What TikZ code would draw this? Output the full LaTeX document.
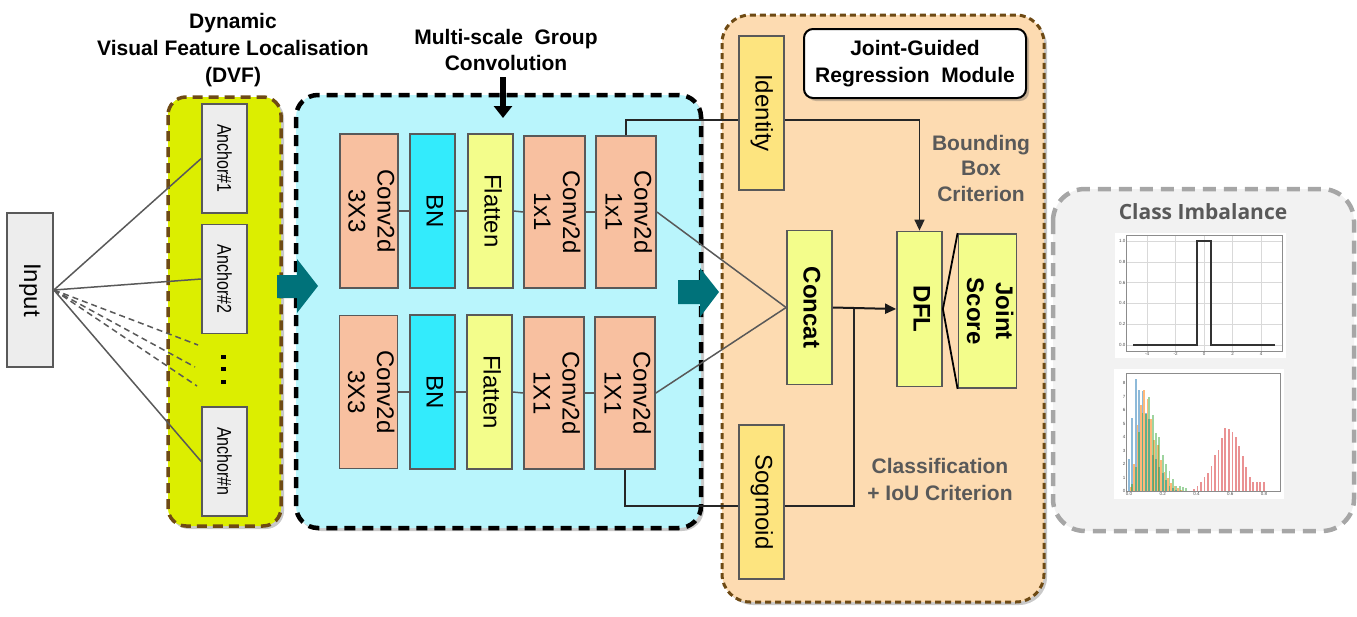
\documentclass[tikz,border=0pt]{standalone}
\usepackage{fontspec}
\setmainfont{Liberation Sans}
\newfontfamily\osans{Open Sans}
\usepackage{graphicx}
\usetikzlibrary{arrows.meta,calc,shadows}
\definecolor{dvfY}{HTML}{DCEE00}
\definecolor{cyanbg}{HTML}{B9F5FC}
\definecolor{convc}{HTML}{F8C0A0}
\definecolor{bnc}{HTML}{33EBFC}
\definecolor{flatc}{HTML}{F3FD8B}
\definecolor{goldc}{HTML}{FDE47F}
\definecolor{orbg}{HTML}{FDDBB1}
\definecolor{brownc}{HTML}{6E4A14}
\definecolor{tealc}{HTML}{00727A}
\definecolor{edgec}{HTML}{595959}
\definecolor{anc}{HTML}{EDEDED}
\definecolor{clsbg}{HTML}{F2F2F2}
\definecolor{clsbd}{HTML}{A6A6A6}
\definecolor{txtgray}{HTML}{595959}
\definecolor{pblue}{HTML}{1F77B4}
\definecolor{porange}{HTML}{FF7F0E}
\definecolor{pgreen}{HTML}{2CA02C}
\definecolor{pred}{HTML}{D62728}
\newcommand{\vtxt}[1]{\rotatebox{-90}{\begin{tabular}{@{}c@{}}#1\end{tabular}}}
\begin{document}
\begin{tikzpicture}[x=1pt,y=-1pt,
  blk/.style={draw=edgec, line width=1.8pt, inner sep=0pt, font=\fontsize{24}{29}\selectfont},
  bblk/.style={blk, font=\fontsize{24}{29}\selectfont\bfseries},
  convbox/.style={blk, fill=convc},
  bnbox/.style={blk, fill=bnc},
  flatbox/.style={blk, fill=flatc},
  goldbox/.style={blk, fill=goldc},
  anchorbox/.style={draw=edgec, line width=1.6pt, inner sep=0pt, fill=anc, minimum width=45pt, minimum height=109pt},
  ttl/.style={font=\fontsize{21}{27}\selectfont\bfseries, align=center},
  gtl/.style={font=\fontsize{21}{26}\selectfont\bfseries, align=center, text=txtgray},
  thin/.style={draw=edgec, line width=1.5pt},
  dark/.style={draw=black!85, line width=1.5pt},
  arr/.style={-{Triangle[length=11pt,width=10pt]}},
  shd/.style={drop shadow={shadow xshift=3pt, shadow yshift=-3pt, opacity=0.3, fill=black!70}},
  tick/.style={font=\fontsize{4.5}{5}\selectfont, text=black!70, inner sep=0.5pt},
]
\useasboundingbox (0,0) rectangle (1357,616);

% ---------- containers ----------
\draw[shd, fill=dvfY, draw=brownc, line width=3.5pt, dash pattern=on 10pt off 6pt, rounded corners=18pt]
  (168,97) rectangle (281,526);
\draw[shd, fill=cyanbg, draw=black, line width=4.5pt, dash pattern=on 11pt off 7pt, rounded corners=22pt]
  (296,95) rectangle (701,528);
\draw[shd, fill=orbg, draw=brownc, line width=3pt, dash pattern=on 6pt off 4pt, rounded corners=28pt]
  (722,15) rectangle (1044,602);
\draw[fill=clsbg, draw=clsbd, line width=4.5pt, dash pattern=on 13pt off 8pt, rounded corners=32pt]
  (1053,189) rectangle (1354,531);

% ---------- titles ----------
\node[ttl] (dvft) at (233,50) {Dynamic\\Visual Feature Localisation\\(DVF)};
\node[ttl, font=\fontsize{21}{26}\selectfont\bfseries] (mst) at (506,50) {Multi-scale\ \ Group\\Convolution};
\coordinate (msa) at (503,77);
\coordinate (msb) at (503,118);
\draw[line width=6pt, -{Triangle[length=12pt,width=18pt]}] (msa) -- (msb);

% ---------- input & anchors ----------
\node[blk, fill=anc, minimum width=46pt, minimum height=154pt] (inp) at (30,290) {\vtxt{Input}};
\node[anchorbox] (a1) at (224.5,158.5) {\rotatebox{-90}{\scalebox{0.8}[1]{\fontsize{20}{24}\selectfont Anchor\#1}}};
\node[anchorbox] (a2) at (224.5,279) {\rotatebox{-90}{\scalebox{0.8}[1]{\fontsize{20}{24}\selectfont Anchor\#2}}};
\node[anchorbox] (an) at (224.5,461.5) {\rotatebox{-90}{\scalebox{0.8}[1]{\fontsize{20}{24}\selectfont Anchor\#n}}};
\draw[thin] (inp.east) -- (a1.west);
\draw[thin] (inp.east) -- (a2.west);
\draw[thin] (inp.east) -- (an.west);
\coordinate (d1) at (198,345);
\coordinate (d2) at (195,367);
\coordinate (d3) at (197,386);
\draw[thin, dash pattern=on 6pt off 4pt] (inp.east) -- (d1);
\draw[thin, dash pattern=on 6pt off 4pt] (inp.east) -- (d2);
\draw[thin, dash pattern=on 6pt off 4pt] (inp.east) -- (d3);
\fill (221,354.5) rectangle (225.5,358.5);
\fill (221,367) rectangle (225.5,371);
\fill (221,379.5) rectangle (225.5,383.5);

% ---------- multi-scale group conv ----------
\node[convbox, minimum width=58pt, minimum height=154pt] (c1) at (369,211) {\vtxt{Conv2d\\3X3}};
\node[bnbox, minimum width=45pt, minimum height=154pt] (b1) at (432.5,211) {\vtxt{BN}};
\node[flatbox, minimum width=45pt, minimum height=154pt] (f1) at (490.5,211) {\vtxt{Flatten}};
\node[convbox, minimum width=61pt, minimum height=152pt] (c2) at (554.5,212) {\vtxt{Conv2d\\1x1}};
\node[convbox, minimum width=60pt, minimum height=152pt] (c3) at (626,212) {\vtxt{Conv2d\\1x1}};
\node[convbox, minimum width=57pt, minimum height=153pt] (c4) at (368.5,392) {\vtxt{Conv2d\\3X3}};
\node[bnbox, minimum width=45pt, minimum height=154pt] (b2) at (432.5,392) {\vtxt{BN}};
\node[flatbox, minimum width=45pt, minimum height=154pt] (f2) at (489.5,392) {\vtxt{Flatten}};
\node[convbox, minimum width=60pt, minimum height=152pt] (c5) at (554,393) {\vtxt{Conv2d\\1X1}};
\node[convbox, minimum width=60pt, minimum height=152pt] (c6) at (625,393) {\vtxt{Conv2d\\1X1}};
\draw[thin] (c1.east) -- (b1.west);
\draw[thin] (b1.east) -- (f1.west);
\draw[thin] (f1.east) -- (c2.west);
\draw[thin] (c2.east) -- (c3.west);
\draw[thin] (c4.east) -- (b2.west);
\draw[thin] (b2.east) -- (f2.west);
\draw[thin] (f2.east) -- (c5.west);
\draw[thin] (c5.east) -- (c6.west);

% ---------- teal block arrows ----------
\fill[tealc] (277,275) -- (297,275) -- (297,259) -- (318,286) -- (297,313) -- (297,298) -- (277,298) -- cycle;
\fill[tealc] (678,280) -- (700,280) -- (700,268) -- (719,292) -- (700,317) -- (700,304) -- (678,304) -- cycle;

% ---------- joint-guided regression module ----------
\node[draw=black, line width=2pt, fill=white, rounded corners=9pt, shd, minimum width=222pt, minimum height=69pt,
      font=\fontsize{21}{27}\selectfont\bfseries, align=center] (jg) at (915,63.5) {Joint-Guided\\Regression\ \ Module};
\node[goldbox, minimum width=45pt, minimum height=154pt] (ident) at (761.5,113) {\vtxt{Identity}};
\node[goldbox, minimum width=45pt, minimum height=154pt] (sog) at (761.5,502) {\vtxt{Sogmoid}};
\node[bblk, fill=flatc, minimum width=45pt, minimum height=154pt] (concat) at (809.5,307.5) {\vtxt{Concat}};
\node[bblk, fill=flatc, minimum width=45pt, minimum height=155pt] (dfl) at (919.5,309) {\vtxt{DFL}};
\node[bblk, fill=flatc, minimum width=57pt, minimum height=154pt] (joint) at (987.5,311) {\vtxt{Joint\\Score}};

\node[gtl, font=\fontsize{21}{25.5}\selectfont\bfseries] (bbc) at (981,168) {Bounding\\Box\\Criterion};
\node[gtl, font=\fontsize{21}{27}\selectfont\bfseries] (cic) at (940,479) {Classification\\+ IoU Criterion};

% connectors
\draw[thin] (c3.east) -- (concat.west);
\draw[thin] (c6.east) -- (concat.west);
\draw[dark] (c3.north) |- ($(ident.west)+(0,7)$);
\draw[dark, arr] ($(ident.east)+(0,7)$) -| (dfl.north);
\draw[dark] (c6.south) |- ($(sog.west)+(0,4)$);
\coordinate (mj) at (854,308);
\draw[dark] ($(sog.east)+(0,4)$) -| (mj);
\draw[draw=black!90, line width=2pt, arr] (concat.east) -- (dfl.west);
\draw[draw=black, line width=1.8pt] (joint.north west) -- (dfl.east) -- (joint.south west);

% ---------- class imbalance ----------
\node[font=\osans\fontsize{21}{25}\selectfont\bfseries, text=txtgray] (cit) at (1203,212) {Class Imbalance};

% plot 1
\fill[white] (1115,233) rectangle (1286,358);
\foreach \u in {-4,-2,0,2,4} \draw[black!15, line width=0.6pt] ({1204+14.25*\u},235) -- ({1204+14.25*\u},351);
\foreach \v in {0,0.2,0.4,0.6,0.8,1.0} \draw[black!15, line width=0.6pt] (1126,{345-104*\v}) -- (1282,{345-104*\v});
\draw[black!45, line width=0.7pt] (1126,235) rectangle (1282,351);
\foreach \u in {-4,-2,0,2,4} \node[tick, anchor=north] at ({1204+14.25*\u},352) {\u};
\foreach \v/\l in {0/0.0,0.2/0.2,0.4/0.4,0.6/0.6,0.8/0.8,1.0/1.0} \node[tick, anchor=east] at (1126,{345-104*\v}) {\l};
\draw[black!80, line width=1.2pt] (1133,345) -- (1197,345) -- (1197,241) -- (1211,241) -- (1211,345) -- (1275,345);

% plot 2
\fill[white] (1114,369) rectangle (1284,499);
\draw[black!45, line width=0.7pt] (1126,373) rectangle (1280,491);
\foreach \u/\l in {0/0.0,0.2/0.2,0.4/0.4,0.6/0.6,0.8/0.8} \node[tick, anchor=north] at ({1129+168.75*\u},492) {\l};
\foreach \v in {0,1,2,3,4,5,6,7,8} \node[tick, anchor=east] at (1126,{491-13.5*\v}) {\v};
\foreach \u/\h in {0.00/2.4,0.02/5.4,0.04/8.3,0.06/7.5,0.08/7.4,0.10/5.8,0.12/5.3,0.14/2.7,0.16/2.4,0.18/1.8,0.20/1.3,0.22/0.8,0.24/0.4,0.26/0.2,0.28/0.1}
  \fill[pblue, opacity=0.5] ({1129+168.75*\u-0.9},491) rectangle ++(1.8,{-13.5*\h});
\foreach \u/\h in {0.01/0.3,0.03/2.0,0.05/4.9,0.07/6.4,0.09/7.5,0.11/6.8,0.13/5.3,0.15/3.8,0.17/3.4,0.19/2.3,0.21/1.4,0.23/1.0,0.25/0.6,0.27/0.4,0.29/0.2,0.31/0.1}
  \fill[porange, opacity=0.55] ({1129+168.75*\u-0.9},491) rectangle ++(1.8,{-13.5*\h});
\foreach \u/\h in {0.02/0.5,0.04/1.8,0.06/4.4,0.08/5.8,0.10/5.7,0.12/7.0,0.14/5.6,0.16/4.3,0.18/4.0,0.20/2.7,0.22/2.0,0.24/1.5,0.26/0.9,0.28/0.4,0.30/0.4,0.32/0.3,0.34/0.2}
  \fill[pgreen, opacity=0.45] ({1129+168.75*\u-0.9},491) rectangle ++(1.8,{-13.5*\h});
\foreach \u/\h in {0.385/0.17,0.406/0.35,0.426/0.67,0.447/1.04,0.468/1.33,0.489/1.85,0.509/2.7,0.530/3.06,0.551/3.95,0.571/4.7,0.592/4.6,0.613/4.4,0.633/4.0,0.654/3.3,0.675/2.6,0.695/1.8,0.716/1.04,0.737/0.67,0.757/0.67,0.778/0.67,0.799/0.67}
  \fill[pred, opacity=0.5] ({1129+168.75*\u-0.9},491) rectangle ++(1.8,{-13.5*\h});
\end{tikzpicture}
\end{document}
